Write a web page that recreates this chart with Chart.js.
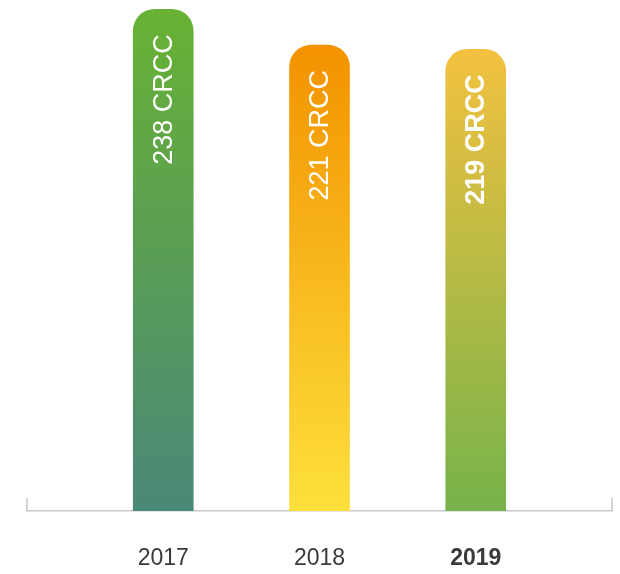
<!DOCTYPE html>
<html>
<head>
<meta charset="utf-8">
<script src="https://cdn.jsdelivr.net/npm/chart.js@4"></script>
<style>
html, body { margin: 0; padding: 0; background: #fff; }
</style>
</head>
<body>
<canvas id="chart" width="620" height="574"></canvas>
<script>
const years = ['2017', '2018', '2019'];
const values = [238, 221, 219];
const valueLabels = ['238 CRCC', '221 CRCC', '219 CRCC'];
const boldIndex = 2;

const topColors = ['#68b234', '#f39200', '#f3c13f'];
const bottomColors = ['#4a8878', '#fde03c', '#76b34a'];
const fontFamily = '"Liberation Sans", Arial, Helvetica, sans-serif';

function barGradient(c) {
    const chart = c.chart;
    const yScale = chart.scales.y;
    if (!chart.chartArea || !yScale || c.dataIndex === undefined) return topColors[0];
    const i = c.dataIndex;
    const top = yScale.getPixelForValue(values[i]);
    const bottom = yScale.getPixelForValue(0);
    const g = chart.ctx.createLinearGradient(0, top, 0, bottom);
    g.addColorStop(0, topColors[i]);
    g.addColorStop(1, bottomColors[i]);
    return g;
}

// small upright ticks at both ends of the baseline
const axisEnds = {
    id: 'axisEnds',
    afterDraw(chart) {
        const x = chart.scales.x;
        const ctx = chart.ctx;
        ctx.save();
        ctx.strokeStyle = '#c8c8c8';
        ctx.lineWidth = 1.5;
        ctx.beginPath();
        [x.left, x.right].forEach(px => {
            ctx.moveTo(px, x.top);
            ctx.lineTo(px, x.top - 13);
        });
        ctx.stroke();
        ctx.restore();
    }
};

// rotated value labels inside the bars
const barLabels = {
    id: 'barLabels',
    afterDatasetsDraw(chart) {
        const ctx = chart.ctx;
        const meta = chart.getDatasetMeta(0);
        meta.data.forEach((bar, i) => {
            ctx.save();
            ctx.translate(bar.x + 1, bar.y + 25);
            ctx.rotate(-Math.PI / 2);
            ctx.textAlign = 'right';
            ctx.textBaseline = 'middle';
            ctx.fillStyle = '#ffffff';
            ctx.font = (i === boldIndex ? 'bold ' : '') + '27px ' + fontFamily;
            ctx.fillText(valueLabels[i], 0, 0);
            ctx.restore();
        });
    }
};

const chart = new Chart(document.getElementById('chart').getContext('2d'), {
    type: 'bar',
    data: {
        datasets: [{
            data: values.map((v, i) => ({ x: i + 1, y: v })),
            backgroundColor: barGradient,
            barThickness: 60,
            borderRadius: { topLeft: 22, topRight: 22, bottomLeft: 0, bottomRight: 0 },
            borderSkipped: 'bottom'
        }]
    },
    options: {
        responsive: false,
        animation: false,
        layout: { padding: { left: 27, right: 8, top: 5, bottom: 0 } },
        plugins: {
            legend: { display: false },
            tooltip: { enabled: false }
        },
        scales: {
            x: {
                type: 'linear',
                offset: false,
                min: 0.128,
                max: 3.872,
                grid: { display: false, drawTicks: false },
                border: { display: true, color: '#c8c8c8', width: 1.5 },
                afterBuildTicks: axis => {
                    axis.ticks = years.map((y, i) => ({ value: i + 1 }));
                },
                afterFit: axis => {
                    axis.height = 63;
                },
                ticks: {
                    padding: 34,
                    color: '#3a3a3a',
                    maxRotation: 0,
                    autoSkip: false,
                    font: c => ({ family: fontFamily, size: 23, weight: c.index === boldIndex ? 'bold' : 'normal' }),
                    callback: v => years[v - 1]
                }
            },
            y: {
                display: false,
                min: 0,
                max: 240
            }
        }
    },
    plugins: [axisEnds, barLabels]
});
</script>
</body>
</html>
